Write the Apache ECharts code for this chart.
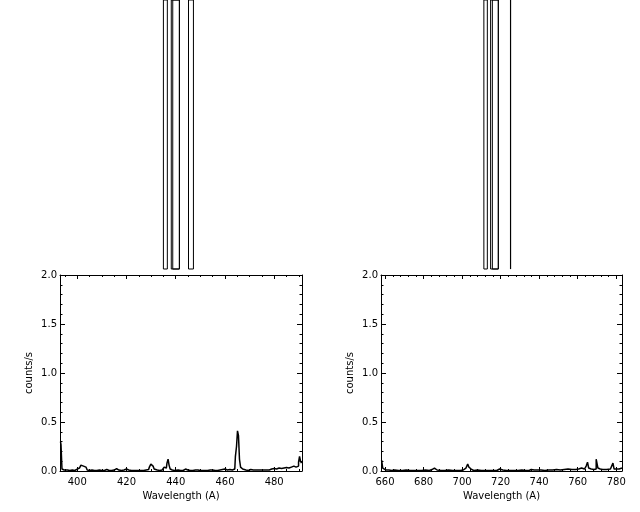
<!DOCTYPE html>
<html><head><meta charset="utf-8">
<script src="https://cdn.jsdelivr.net/npm/echarts@6/dist/echarts.min.js"></script>
<style>html,body{margin:0;padding:0;background:#fff}#c{width:640px;height:512px}</style>
</head><body><div id="c"></div>
<script>
// Panel 1 (ORD 0)
const leftWave = [393.2,393.6,394.0,394.4,395,396,397,398,399,400,400.6,401.2,401.8,402.3,402.8,403.3,403.8,404.3,405,406,407,408,409,410,411,412,413,414,415,416,416.6,417.2,418,419,420,420.6,421.2,422,424,426,428,429,429.6,430.2,430.6,431,431.5,432,433,434,435,435.6,436.2,436.7,437.1,437.5,438,438.6,439.5,441,442,443,444,444.6,445.2,446,448,450,452,454,456,458,459,460,461,462,463,464,464.5,464.9,465.3,465.7,466.1,466.6,467.2,468,469,470,471,472,474,476,478,479,480,481,482,483,484,485,486,487,488,488.6,489.2,489.7,490.1,490.5,490.9,491.3];
const leftCounts = [0.30,0.27,0.02,0.01,0.005,0.01,0.005,0.01,0.005,0.02,0.03,0.04,0.06,0.05,0.03,0.04,0.02,0.01,0.005,0.01,0.005,0.005,0.01,0.005,0.005,0.015,0.005,0.005,0.01,0.025,0.01,0.005,0.005,0.01,0.02,0.01,0.005,0.005,0.005,0.005,0.01,0.015,0.04,0.07,0.05,0.03,0.02,0.01,0.005,0.01,0.02,0.04,0.03,0.08,0.12,0.06,0.02,0.01,0.005,0.01,0.005,0.005,0.02,0.01,0.005,0.005,0.01,0.005,0.005,0.01,0.005,0.01,0.015,0.02,0.01,0.015,0.01,0.02,0.15,0.25,0.41,0.36,0.12,0.04,0.02,0.01,0.005,0.015,0.01,0.01,0.01,0.01,0.01,0.02,0.025,0.02,0.03,0.025,0.03,0.035,0.03,0.04,0.05,0.04,0.06,0.05,0.09,0.15,0.10,0.08,0.06];
// Panel 2 (ORD 1)
const rightWave = [658.2,658.6,659.0,659.5,660,661,662,663,664,666,668,670,672,674,676,678,680,682,684,684.7,685.3,686,688,690,692,694,696,698,700,701,702,702.6,703.2,703.8,704.4,705,706,708,710,712,714,716,718,719.5,720.3,722,724,726,728,730,732,734,735.5,736.3,737,737.8,738.5,739.3,740,742,744,746,748,750,752,754,756,758,760,761,762,763,764,764.8,765.4,766,767,768,769,770.2,770.8,771.4,772,774,776,778,778.6,779.2,780,781,782,783];
const rightCounts = [0.11,0.10,0.03,0.02,0.01,0.005,0.01,0.005,0.01,0.005,0.005,0.01,0.005,0.005,0.005,0.005,0.01,0.005,0.01,0.015,0.03,0.01,0.005,0.005,0.01,0.005,0.005,0.005,0.01,0.015,0.03,0.05,0.07,0.04,0.02,0.01,0.005,0.01,0.005,0.005,0.005,0.005,0.005,0.02,0.01,0.005,0.005,0.005,0.005,0.01,0.005,0.005,0.015,0.025,0.01,0.03,0.01,0.02,0.01,0.005,0.01,0.01,0.015,0.01,0.015,0.02,0.015,0.015,0.02,0.025,0.03,0.02,0.015,0.05,0.09,0.03,0.02,0.015,0.02,0.12,0.03,0.02,0.015,0.015,0.02,0.02,0.08,0.02,0.02,0.02,0.02,0.03];
// Axis ranges and ticks
const leftRange = [393, 491.3];
const rightRange = [657.9, 783];
const leftMajorTicks = [400, 420, 440, 460, 480];
const rightMajorTicks = [660, 680, 700, 720, 740, 760, 780];
const leftMinorStep = 5;
const rightMinorStep = 4;
// Rectangles above the panels (wavelength start, end)
const leftRects = [[435.0,436.6],[438.2,441.5],[438.8,441.5],[445.2,447.2]];
const rightRects = [[711.3,713.1],[714.8,718.8],[715.7,718.8],[725.1,725.2]];

function minorTicks(range, step){
  const out=[]; for(let v=Math.ceil(range[0]/step)*step; v<=range[1]; v+=step) out.push(v); return out;
}
const FONT = 'DejaVu Sans';
const grids = [
  {left:60, top:275, width:242, height:196},
  {left:381, top:275, width:241, height:196},
  {left:60, top:-10, width:242, height:279},
  {left:381, top:-10, width:241, height:279}
];
const xAxes=[], yAxes=[], series=[];
function panel(g, range, major, minorStep, wave, counts){
  const base = xAxes.length;
  const minor = minorTicks(range, minorStep);
  const common = {type:'value', gridIndex:g, min:range[0], max:range[1], splitLine:{show:false}};
  xAxes.push(Object.assign({}, common, {position:'bottom', axisLine:{show:true,lineStyle:{color:'#000',width:1}},
    axisTick:{show:true,inside:true,length:4,customValues:major,lineStyle:{color:'#000'}},
    axisLabel:{show:true,customValues:major,margin:6,color:'#000',fontFamily:FONT,fontSize:10},
    name:'Wavelength (A)', nameLocation:'middle', nameGap:20, nameTextStyle:{color:'#000',fontFamily:FONT,fontSize:10}}));
  xAxes.push(Object.assign({}, common, {position:'bottom', axisLine:{show:false},
    axisTick:{show:true,inside:true,length:2,customValues:minor,lineStyle:{color:'#000'}}, axisLabel:{show:false}}));
  xAxes.push(Object.assign({}, common, {position:'top', axisLine:{show:true,lineStyle:{color:'#000',width:1}},
    axisTick:{show:true,inside:true,length:4,customValues:major,lineStyle:{color:'#000'}}, axisLabel:{show:false}}));
  xAxes.push(Object.assign({}, common, {position:'top', axisLine:{show:false},
    axisTick:{show:true,inside:true,length:2,customValues:minor,lineStyle:{color:'#000'}}, axisLabel:{show:false}}));
  const yb = yAxes.length;
  const ycommon = {type:'value', gridIndex:g, min:0, max:2, interval:0.5, splitLine:{show:false}};
  yAxes.push(Object.assign({}, ycommon, {position:'left', axisLine:{show:true,lineStyle:{color:'#000'}},
    axisTick:{show:true,inside:true,length:5,lineStyle:{color:'#000'}},
    minorTick:{show:true,splitNumber:5,length:2.5,lineStyle:{color:'#000'}},
    axisLabel:{show:true,margin:3,color:'#000',fontFamily:FONT,fontSize:10,formatter:v=>v.toFixed(1)},
    name:'counts/s', nameLocation:'middle', nameGap:26, nameTextStyle:{color:'#000',fontFamily:FONT,fontSize:10}}));
  yAxes.push(Object.assign({}, ycommon, {position:'right', axisLine:{show:true,lineStyle:{color:'#000'}},
    axisTick:{show:true,inside:true,length:5,lineStyle:{color:'#000'}},
    minorTick:{show:true,splitNumber:5,length:2.5,lineStyle:{color:'#000'}}, axisLabel:{show:false}}));
  series.push({type:'line', xAxisIndex:base, yAxisIndex:yb, step:'middle', showSymbol:false, symbol:'none',
    data: wave.map((w,i)=>[w,counts[i]]), lineStyle:{color:'#000',width:1.5}, itemStyle:{color:'#000'}, animation:false, silent:true});
}
panel(0, leftRange, leftMajorTicks, leftMinorStep, leftWave, leftCounts);
panel(1, rightRange, rightMajorTicks, rightMinorStep, rightWave, rightCounts);
function rectPanel(g, range, rects){
  const xi = xAxes.length, yi = yAxes.length;
  xAxes.push({type:'value', gridIndex:g, min:range[0], max:range[1], show:false});
  yAxes.push({type:'value', gridIndex:g, min:0, max:1, show:false});
  series.push({type:'custom', xAxisIndex:xi, yAxisIndex:yi, data:rects, animation:false, silent:true, clip:false,
    renderItem:(params, api)=>{
      const p0 = api.coord([api.value(0), 0]);
      const p1 = api.coord([api.value(1), 1]);
      return {type:'rect', shape:{x:p0[0], y:p1[1], width:Math.max(p1[0]-p0[0],0.01), height:p0[1]-p1[1]},
        style:{fill:'none', stroke:'#000', lineWidth:1}};
    }});
}
rectPanel(2, leftRange, leftRects);
rectPanel(3, rightRange, rightRects);
const chart = echarts.init(document.getElementById('c'), null, {renderer:'canvas'});
chart.setOption({backgroundColor:'#fff', animation:false, grid:grids, xAxis:xAxes, yAxis:yAxes, series:series});
</script></body></html>
